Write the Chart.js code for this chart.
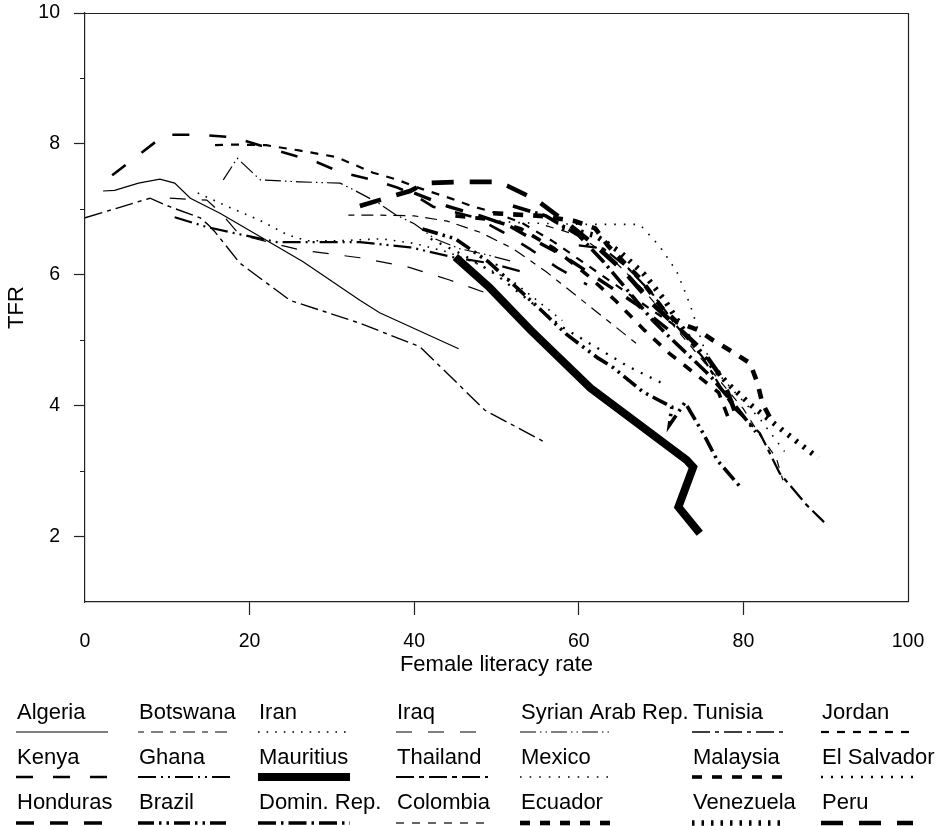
<!DOCTYPE html>
<html>
<head>
<meta charset="utf-8">
<script src="https://cdn.jsdelivr.net/npm/chart.js@4.4.1/dist/chart.umd.min.js"></script>
<style>
  html, body { margin: 0; padding: 0; background: #fff; }
  canvas { display: block; }
</style>
</head>
<body>
<canvas id="chart" width="937" height="826"></canvas>
<script>
// Total fertility rate (TFR) against female literacy rate, one path per country.
// Each entry is [female literacy %, TFR].
const algeria   = [[2.2,7.28],[3.6,7.29],[6.5,7.40],[9.1,7.46],[10.9,7.40],[12.8,7.17],[16.4,6.94],[21.3,6.58],[26.5,6.20],[33.4,5.61],[35.8,5.42],[45.4,4.87]];
const botswana  = [[32,6.91],[36,6.91],[40,6.90],[44,6.82],[48,6.65],[52,6.40],[56,6.05],[60,5.65],[64,5.25],[67,4.95]];
const iran      = [[13.7,7.25],[17.2,7.05],[21.3,6.83],[24.6,6.61],[27,6.52],[31,6.52],[36,6.55],[40,6.48],[44,6.35],[48,6.15],[52,5.90],[55,5.60],[58,5.30]];
const iraq      = [[10.3,7.17],[14.8,7.14],[16.4,6.96],[18.8,6.61],[26.1,6.38],[33.4,6.26],[39.2,6.12],[44.3,5.92],[48.8,5.72]];
const syria     = [[16.8,7.45],[18.5,7.78],[21.3,7.45],[26,7.42],[31,7.40],[32.6,7.30],[35.6,7.10],[37.7,6.92],[40,6.78],[42.5,6.55],[45.5,6.40],[49,6.30],[52,6.20]];
const tunisia   = [[0,6.87],[7.9,7.17],[10.3,7.04],[14,6.87],[15,6.76],[15.7,6.67],[18.8,6.18],[24.9,5.61],[33.4,5.26],[40.7,4.90],[48.6,3.93],[55.9,3.44]];
const jordan    = [[15.8,7.98],[18,7.99],[22,7.98],[26,7.90],[30.5,7.80],[35,7.56],[38,7.45],[40,7.35],[44.6,7.16],[47,7.05],[49.5,6.96],[53,6.80],[57,6.50],[61,6.15],[65,5.80],[69,5.45],[72,5.20]];
const kenya     = [[3.3,7.52],[9.7,8.14],[14,8.14],[18,8.10],[23.3,7.90],[28.2,7.72],[31,7.57],[35,7.45],[38,7.33],[40,7.22],[42.3,7.04],[47.6,6.87],[50.8,6.65],[54,6.40],[57.5,6.10],[61,5.85]];
const ghana     = [[10.9,6.88],[14.8,6.73],[18,6.64],[23.3,6.50],[27.3,6.50],[33.4,6.50],[39.5,6.42],[44.7,6.27],[49.5,6.17],[53,6.05]];
const mauritius = [[45.0,6.27],[49.2,5.80],[54.1,5.16],[61.4,4.27],[73.1,3.17],[73.9,3.06],[72.1,2.45],[74.7,2.05]];
const thailand  = [[60,6.45],[63,6.40],[66,6.10],[69,5.70],[72,5.20],[75,4.75],[78.7,3.98],[82,3.58],[84.4,2.97],[87.7,2.48],[89.8,2.22]];
const mexico    = [[48,6.85],[52,6.80],[57,6.78],[61.4,6.77],[67.4,6.77],[69.8,6.44],[71.9,6.05],[73.1,5.68],[73.8,5.44],[75,4.95],[76.5,4.55],[79,4.20],[82,3.80],[85,3.30]];
const malaysia  = [[45,6.90],[49,6.85],[53,6.70],[57,6.40],[61,6.00],[64.5,5.60],[68,5.15],[71,4.80],[74,4.50],[77,4.20],[78.5,3.70]];
const elSalvador= [[42,6.55],[46,6.30],[50,6.00],[54,5.60],[58,5.20],[62,4.90],[66,4.60],[70,4.35]];
const honduras  = [[40,7.25],[44,7.05],[48,6.90],[51.5,6.75],[55,6.50],[58,6.30],[61,6.05],[64,5.80],[67,5.55],[70,5.25],[72,5.05]];
const brazil    = [[41,6.70],[45,6.55],[49,6.20],[52.5,5.80],[55.5,5.45],[58.6,5.08],[62.3,4.73],[64.2,4.58],[67.8,4.21],[71.3,3.98],[71.0,3.70],[72.9,4.05],[75.1,3.58],[76.8,3.17],[79.6,2.76]];
const dominRep  = [[52,7.05],[56,6.90],[60,6.60],[63,6.20],[66,5.75],[69,5.30],[71,5.05],[73.5,4.75],[76,4.45],[79,4.00],[81.5,3.60]];
const colombia  = [[56,6.75],[60,6.60],[64,6.25],[68,5.75],[71,5.30],[74,4.85],[77,4.40],[80,3.95],[82,3.55],[84,3.20],[84.8,2.86]];
const ecuador   = [[49.6,6.94],[55.3,6.90],[59.5,6.82],[62,6.71],[63.5,6.45],[65.4,6.20],[67.4,5.95],[70.2,5.48],[71.9,5.28],[74.4,5.16],[76.3,5.00],[78.7,4.82],[80.8,4.65],[81.7,4.35],[82.3,4.04],[83.6,3.73]];
const venezuela = [[58,6.72],[62,6.60],[65,6.35],[68,6.00],[70.5,5.60],[73,5.10],[75.5,4.70],[78,4.35],[81,4.00],[84,3.70],[86.5,3.45],[89.1,3.20]];
const peru      = [[33.4,7.05],[36.5,7.17],[39.5,7.28],[41.3,7.40],[45.6,7.42],[50.1,7.42],[51.3,7.36],[54.9,7.14],[58.5,6.80],[62,6.45],[65.5,6.05],[69,5.55],[72,5.20],[75,4.85],[77.5,4.40],[79,3.90]];

// Legend order: three rows of seven
const countries = ['Algeria','Botswana','Iran','Iraq','Syrian Arab Rep.','Tunisia','Jordan',
                   'Kenya','Ghana','Mauritius','Thailand','Mexico','Malaysia','El Salvador',
                   'Honduras','Brazil','Domin. Rep.','Colombia','Ecuador','Venezuela','Peru'];
const paths = [algeria, botswana, iran, iraq, syria, tunisia, jordan,
               kenya, ghana, mauritius, thailand, mexico, malaysia, elSalvador,
               honduras, brazil, dominRep, colombia, ecuador, venezuela, peru];

const xTickValues = [0, 20, 40, 60, 80, 100];
const yLabelValues = [2, 4, 6, 8, 10];

// Stroke styles: width and dash pattern per country
const lineStyles = {
  'Algeria':          { w: 1.2, dash: [] },
  'Botswana':         { w: 1.2, dash: [6, 7, 12, 7] },
  'Iran':             { w: 1.6, dash: [1.6, 7] },
  'Iraq':             { w: 1.2, dash: [16, 16] },
  'Syrian Arab Rep.': { w: 1.2, dash: [16, 4, 1.5, 4, 1.5, 4] },
  'Tunisia':          { w: 1.4, dash: [18, 5, 4, 5] },
  'Jordan':           { w: 2.2, dash: [8, 8] },
  'Kenya':            { w: 2.6, dash: [17, 20] },
  'Ghana':            { w: 2.2, dash: [18, 5, 2, 5, 2, 5] },
  'Mauritius':        { w: 8,   dash: [] },
  'Thailand':         { w: 2.2, dash: [18, 5, 5, 5] },
  'Mexico':           { w: 1.6, dash: [1.6, 8] },
  'Malaysia':         { w: 3.6, dash: [10, 10] },
  'El Salvador':      { w: 2.3, dash: [2, 8] },
  'Honduras':         { w: 3.4, dash: [18, 16] },
  'Brazil':           { w: 3.6, dash: [16, 5, 2.5, 5, 2.5, 5] },
  'Domin. Rep.':      { w: 3.6, dash: [18, 5, 2.5, 5] },
  'Colombia':         { w: 1.2, dash: [8, 8] },
  'Ecuador':          { w: 4.6, dash: [10, 10] },
  'Venezuela':        { w: 5.5, dash: [2.5, 7] },
  'Peru':             { w: 4.6, dash: [22, 16] }
};

const FAMILY = "'Liberation Sans', Arial, Helvetica, sans-serif";
const INK = '#000';

// Legend placement below the plot
const legendColX = [17, 139, 259, 397, 521, 693, 822];
const legendTextY = [713, 758, 803];
const legendLineY = [732, 777, 823];
const legendLineLen = 92;

const datasets = countries.map((name, i) => ({
  label: name,
  data: paths[i].map(([x, y]) => ({ x, y })),
  borderColor: '#000',
  backgroundColor: '#000',
  borderWidth: lineStyles[name].w,
  borderDash: lineStyles[name].dash,
  borderCapStyle: 'butt',
  borderJoinStyle: 'miter',
  pointRadius: 0,
  pointHoverRadius: 0,
  tension: 0,
  fill: false
}));

// Closes the plot box along the top and right edges
const frameBox = {
  id: 'frameBox',
  afterDraw(chart) {
    const { ctx, chartArea: a } = chart;
    ctx.save();
    ctx.strokeStyle = '#222';
    ctx.lineWidth = 1.2;
    ctx.beginPath();
    ctx.moveTo(a.left, Math.round(a.top) + 0.5);
    ctx.lineTo(Math.round(a.right) + 0.5, Math.round(a.top) + 0.5);
    ctx.lineTo(Math.round(a.right) + 0.5, a.bottom);
    ctx.stroke();
    ctx.restore();
  }
};

// Grid legend: name with a sample of the line drawn underneath
const legendGrid = {
  id: 'legendGrid',
  afterDraw(chart) {
    const ctx = chart.ctx;
    chart.data.datasets.forEach((ds, i) => {
      const col = i % 7, row = Math.floor(i / 7);
      const x = legendColX[col];
      ctx.save();
      ctx.fillStyle = INK;
      ctx.font = '22px ' + FAMILY;
      ctx.textBaseline = 'middle';
      ctx.textAlign = 'left';
      ctx.fillText(ds.label, x, legendTextY[row]);
      ctx.strokeStyle = '#000';
      ctx.lineWidth = ds.borderWidth;
      ctx.lineCap = 'butt';
      ctx.setLineDash(ds.borderDash);
      ctx.beginPath();
      ctx.moveTo(x - 1, legendLineY[row]);
      ctx.lineTo(x - 1 + legendLineLen, legendLineY[row]);
      ctx.stroke();
      ctx.restore();
    });
  }
};

new Chart(document.getElementById('chart'), {
  type: 'line',
  data: { datasets },
  plugins: [frameBox, legendGrid],
  options: {
    responsive: false,
    animation: false,
    devicePixelRatio: 1,
    events: [],
    layout: { padding: { left: 0, right: 29, top: 13, bottom: 0 } },
    plugins: {
      legend: { display: false },
      tooltip: { enabled: false }
    },
    scales: {
      x: {
        type: 'linear',
        min: 0,
        max: 100,
        afterBuildTicks: s => { s.ticks = xTickValues.map(v => ({ value: v })); },
        ticks: {
          padding: 15,
          color: INK,
          font: { family: FAMILY, size: 19.5 },
          maxRotation: 0,
          autoSkip: false
        },
        grid: {
          drawOnChartArea: false,
          drawTicks: true,
          tickLength: 13,
          tickWidth: 1.2,
          tickColor: c => (c.tick && (c.tick.value === 0 || c.tick.value === 100)) ? 'rgba(0,0,0,0)' : '#222'
        },
        border: { display: true, color: '#222', width: 1.2 },
        title: {
          display: true,
          text: 'Female literacy rate',
          color: INK,
          font: { family: FAMILY, size: 22 },
          padding: { top: 0, bottom: 148 }
        },
        afterFit: s => { s.height = 224; s.paddingLeft = 0; s.paddingRight = 0; }
      },
      y: {
        type: 'linear',
        min: 1,
        max: 10,
        ticks: {
          stepSize: 1,
          padding: 14,
          color: INK,
          font: { family: FAMILY, size: 19.5 },
          autoSkip: false,
          callback: v => yLabelValues.includes(v) ? String(v) : ''
        },
        grid: {
          drawOnChartArea: false,
          drawTicks: true,
          tickLength: 11,
          tickWidth: 1.2,
          tickColor: c => (c.tick && c.tick.value === 1) ? 'rgba(0,0,0,0)' : '#222',
          // odd values get a short mark next to the axis
          tickBorderDash: c => (c.tick && c.tick.value % 2 === 1) ? [0, 6, 5, 100] : []
        },
        border: { display: true, color: '#222', width: 1.2 },
        title: {
          display: true,
          text: 'TFR',
          color: INK,
          font: { family: FAMILY, size: 22 },
          padding: { top: 4, bottom: 0 }
        },
        afterFit: s => { s.width = 85; s.paddingTop = 0; s.paddingBottom = 0; }
      }
    }
  }
});
</script>
</body>
</html>
